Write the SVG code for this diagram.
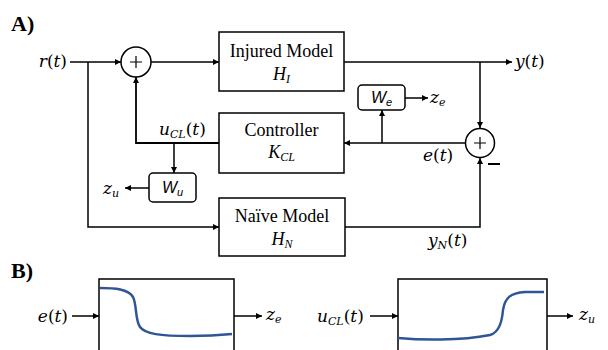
<svg xmlns="http://www.w3.org/2000/svg" width="608" height="350" viewBox="0 0 608 350">
<defs>
<marker id="ah" viewBox="0 0 10 10" refX="10" refY="5" markerWidth="6" markerHeight="6" markerUnits="userSpaceOnUse" orient="auto">
<path d="M0,0 L10,5 L0,10 z" fill="#000"/>
</marker>
<style>
.box{fill:#fff;stroke:#000;stroke-width:1.5}
.wbox{fill:#fff;stroke:#000;stroke-width:1.5}
.ln{fill:none;stroke:#000;stroke-width:1.5}
.arr{fill:none;stroke:#000;stroke-width:1.5;marker-end:url(#ah)}
.t{font-family:"Liberation Serif","Times New Roman",serif;font-size:18px;fill:#000}
.ti{font-family:"Liberation Serif","Times New Roman",serif;font-size:18px;font-style:italic;fill:#000}
.m{font-family:"DejaVu Serif",serif;font-size:17px;font-style:italic;fill:#000}
.w{font-family:"Liberation Sans",Arial,sans-serif;font-size:16px;font-style:italic;fill:#000}
.hd{font-family:"Liberation Serif","Times New Roman",serif;font-size:22px;font-weight:bold;fill:#000}
.up{font-style:normal}
.curve{fill:none;stroke:#2F5597;stroke-width:2.5}
</style>
</defs>
<text class="hd" x="11" y="31">A)</text>
<text class="hd" x="11" y="278">B)</text>

<g id="connectors">
<path class="arr" d="M70,62 H121"/>
<path class="arr" d="M88,62 V227 H219"/>
<path class="arr" d="M151,62 H219"/>
<path class="arr" d="M344,62 H512"/>
<path class="arr" d="M480,62 V128"/>
<path class="arr" d="M345,227 H480 V158"/>
<path class="arr" d="M465,143 H344"/>
<path class="arr" d="M382,143 V110"/>
<path class="arr" d="M405,98 H428"/>
<path class="arr" d="M219,143 H136 V77" style="stroke-width:1.8"/>
<path class="arr" d="M174,143 V173"/>
<path class="arr" d="M149,188 H125"/>
<path class="arr" d="M72,316 H99"/>
<path class="arr" d="M234,316 H262"/>
<path class="arr" d="M370,316 H398"/>
<path class="arr" d="M547,316 H573"/>
</g>

<g id="sum1">
<circle cx="136" cy="62" r="15" class="box"/>
<path class="ln" d="M130,62 H142 M136,56 V68" style="stroke-width:1.2"/>
</g>
<g id="sum2">
<circle cx="480" cy="143" r="14.5" class="box"/>
<path class="ln" d="M474,143 H486 M480,137 V149" style="stroke-width:1.2"/>
<path class="ln" d="M488,164 H500" style="stroke-width:2"/>
</g>

<g id="injured">
<rect class="box" x="219" y="32" width="125" height="59"/>
<text class="t" x="281.5" y="57" text-anchor="middle">Injured Model</text>
<text class="ti" x="281.5" y="80" text-anchor="middle">H<tspan font-size="12" dy="3">I</tspan></text>
</g>
<g id="controller">
<rect class="box" x="219" y="113" width="125" height="60"/>
<text class="t" x="281.5" y="136" text-anchor="middle">Controller</text>
<text class="ti" x="281.5" y="158" text-anchor="middle">K<tspan font-size="12" dy="3">CL</tspan></text>
</g>
<g id="naive">
<rect class="box" x="219" y="198" width="126" height="58"/>
<text class="t" x="282" y="222" text-anchor="middle">Naïve Model</text>
<text class="ti" x="282" y="245" text-anchor="middle">H<tspan font-size="12" dy="3">N</tspan></text>
</g>
<g id="We">
<rect class="wbox" x="358" y="85" width="47" height="25" rx="4"/>
<text class="w" x="381.5" y="103" text-anchor="middle">W<tspan font-size="11" dy="3">e</tspan></text>
</g>
<g id="Wu">
<rect class="wbox" x="149" y="173" width="47" height="29" rx="4"/>
<text class="w" x="172.5" y="193" text-anchor="middle">W<tspan font-size="11" dy="3">u</tspan></text>
</g>

<g id="labels">
<text class="m" x="67" y="67" text-anchor="end">r<tspan class="up">(</tspan>t<tspan class="up">)</tspan></text>
<text class="m" x="515" y="67">y<tspan class="up">(</tspan>t<tspan class="up">)</tspan></text>
<text class="m" x="159" y="135">u<tspan font-size="11" dy="3">CL</tspan><tspan class="up" dy="-3">(</tspan>t<tspan class="up">)</tspan></text>
<text class="m" x="423" y="161">e<tspan class="up">(</tspan>t<tspan class="up">)</tspan></text>
<text class="m" x="428" y="246">y<tspan font-size="11" dy="3">N</tspan><tspan class="up" dy="-3">(</tspan>t<tspan class="up">)</tspan></text>
<text class="m" x="103" y="194">z<tspan font-size="11" dy="3">u</tspan></text>
<text class="m" x="430" y="103">z<tspan font-size="11" dy="3">e</tspan></text>
<text class="m" x="68" y="322" text-anchor="end">e<tspan class="up">(</tspan>t<tspan class="up">)</tspan></text>
<text class="m" x="266" y="320">z<tspan font-size="11" dy="3">e</tspan></text>
<text class="m" x="317" y="322">u<tspan font-size="11" dy="3">CL</tspan><tspan class="up" dy="-3">(</tspan>t<tspan class="up">)</tspan></text>
<text class="m" x="579" y="320">z<tspan font-size="11" dy="3">u</tspan></text>
</g>

<g id="nonlin1">
<rect class="box" x="99" y="279" width="135" height="80"/>
<path class="curve" d="M100,288 C115,288 128,289 133,297 C137,305 135,320 140,327 C145,334 160,336 190,336 C210,336 222,335 232,334"/>
</g>
<g id="nonlin2">
<rect class="box" x="398" y="279" width="149" height="80"/>
<path class="curve" d="M398,338 C420,340 460,341 490,335 C500,332 502,320 503,310 C505,298 510,293 525,292 L544,292"/>
</g>
</svg>
